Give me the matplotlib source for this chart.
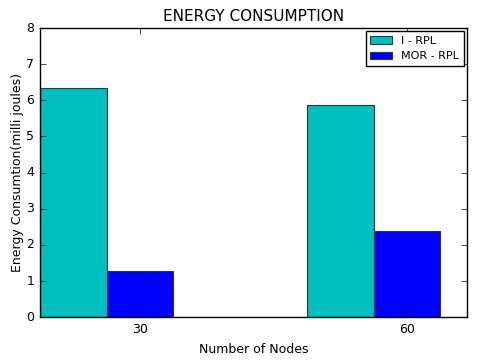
import numpy as np
import matplotlib
matplotlib.use('Agg')
import matplotlib.pyplot as plt

nodes = ['30', '60']
i_rpl = [6.33, 5.88]
mor_rpl = [1.28, 2.38]

plt.style.use('classic')
fig = plt.figure(figsize=(4.8, 3.6), dpi=100)
ax = fig.add_axes([0.083, 0.119, 0.89, 0.803])

ind = np.arange(len(nodes))
width = 0.25

ax.bar(ind, i_rpl, width, align='edge', color='c', edgecolor='#333333', linewidth=0.8, label='I - RPL')
ax.bar(ind + width, mor_rpl, width, align='edge', color='b', edgecolor='#333333', linewidth=0.8, label='MOR - RPL')

ax.set_xlim(0, 1.6)
ax.set_ylim(0, 8)
ax.set_xticks(ind + width * 1.5)
ax.set_xticklabels(nodes)
ax.tick_params(labelsize=9)

ax.set_title('ENERGY CONSUMPTION', fontsize=11, pad=5)
ax.set_xlabel('Number of Nodes', fontsize=9)
ax.set_ylabel('Energy Consumtion(milli joules)', fontsize=9, labelpad=2)
ax.legend(loc='upper right', fontsize=8, borderaxespad=0.3)

fig.savefig('out.png', dpi=100)
